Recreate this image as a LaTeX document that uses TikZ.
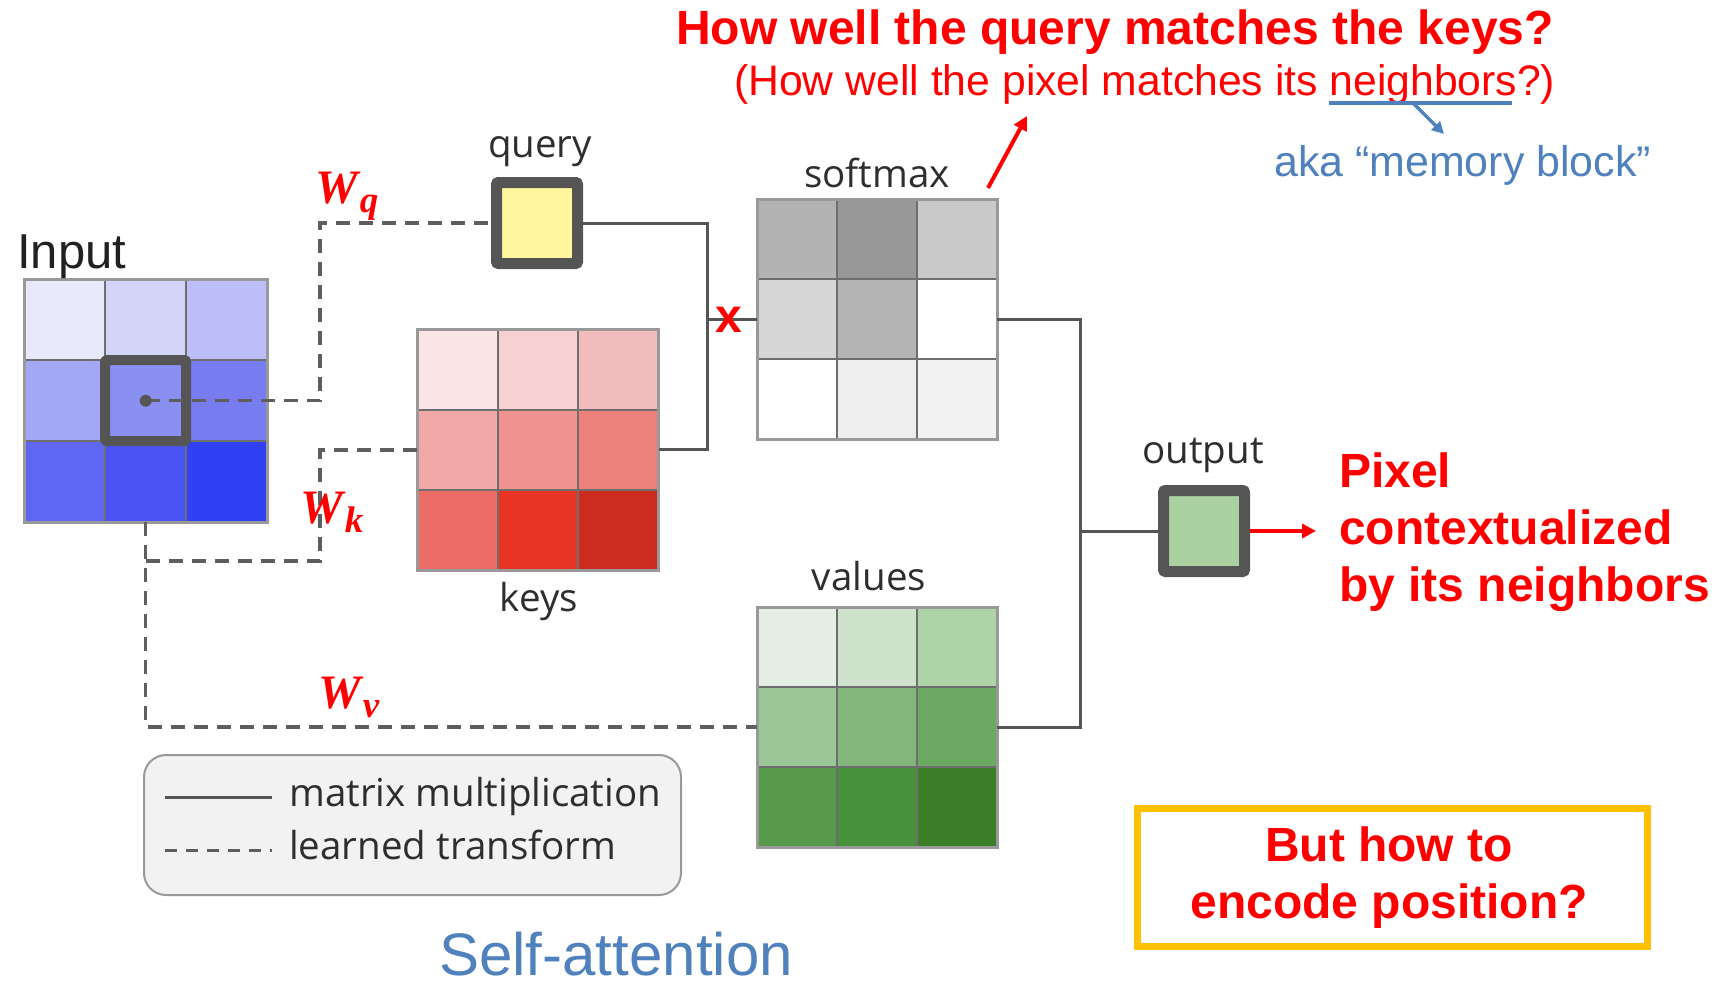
\documentclass[tikz,border=0pt]{standalone}
\usepackage{fontspec}
\setmainfont{Liberation Sans}
\newfontfamily\labelfont{Open Sans}
\newfontfamily\weightfont{Liberation Serif}
\usetikzlibrary{arrows.meta}

\definecolor{wire}{HTML}{555555}
\definecolor{dashwire}{HTML}{5E5E5E}
\definecolor{cellline}{HTML}{6E6E6E}
\definecolor{gridframe}{HTML}{999999}
\definecolor{labelgray}{HTML}{2E2E2E}
\definecolor{noteblue}{HTML}{4F81BD}
\definecolor{notered}{HTML}{FF0000}
\definecolor{querybg}{HTML}{FFF59D}
\definecolor{outputbg}{HTML}{ABD1A0}
\definecolor{legendbg}{HTML}{F2F2F2}
\definecolor{gold}{HTML}{FFC000}

% 3x3 grid of coloured cells: name, left, top, cell size, nine hex colours
\newcommand\cellgrid[5]{%
  \node[inner sep=0pt, minimum width={3*#4}, minimum height={3*#4}, anchor=north west] (#1) at (#2,#3) {};
  \foreach \c [count=\i from 0] in {#5} {%
    \pgfmathtruncatemacro\gc{mod(\i,3)}%
    \pgfmathtruncatemacro\gr{div(\i,3)}%
    \definecolor{cellfill}{HTML}{\c}%
    \fill[cellfill] ({#2+\gc*#4},{#3+\gr*#4}) rectangle ++(#4,#4);
  }
  \foreach \k in {1,2} {%
    \draw[cellrule] ({#2+\k*#4},#3) -- ++(0,{3*#4});
    \draw[cellrule] (#2,{#3+\k*#4}) -- ++({3*#4},0);
  }
  \draw[gridrim] (#1.north west) rectangle (#1.south east);
}

% weight matrix symbol: bold italic W with a large subscript
\newcommand\weight[1]{{\weightfont\bfseries\itshape W\kern2pt\raisebox{-9pt}{\fontsize{37}{37}\selectfont #1}}}

\tikzset{
  cellrule/.style={draw=cellline, line width=2pt},
  gridrim/.style={draw=gridframe, line width=3pt},
  matmul/.style={draw=wire, line width=3pt},
  learned/.style={draw=dashwire, line width=3.5pt, dash pattern=on 14pt off 9pt},
  heavybox/.style={draw=wire, line width=11pt, minimum size=81pt, inner sep=0pt, rounded corners=2pt},
  gtext/.style={font=\labelfont\fontsize{38.5}{46}\selectfont, text=labelgray, inner sep=0pt},
  redbold/.style={font=\bfseries\fontsize{48}{57}\selectfont, text=notered, inner sep=0pt},
  wlabel/.style={font=\fontsize{48}{52}\selectfont, text=notered, inner sep=0pt, anchor=base west},
  redarrow/.style={draw=notered, line width=4pt, -{Triangle[length=14pt, width=14pt]}},
  bluearrow/.style={draw=noteblue, line width=3.5pt, -{Triangle[length=12pt, width=12pt]}},
}

\begin{document}
\begin{tikzpicture}[x=1pt, y=-1pt]
\useasboundingbox (0,0) rectangle (1727,988);

% ---- grids ----
\cellgrid{input}{24}{279}{81}{E8E9FB,D2D4F8,BBBEF9,A3A7F6,8A8FF2,777CF1,5F66F1,4A53F4,2F41F2}
\cellgrid{keys}{417}{329}{80.5}{FAE6E6,F7D1D1,F3BCBC,F3A8A8,EF9290,EE807C,EE6C68,E83424,CC2C1E}
\cellgrid{softmax}{757}{199}{80}{B3B3B3,989898,C9C9C9,D6D6D6,B4B4B4,FFFFFF,FFFFFF,EEEEEE,F2F2F2}
\cellgrid{values}{757}{607}{80}{E4EEE4,CEE2CC,AED3A6,9BC695,83B67B,6BA862,56994A,48913C,3A7E27}

% ---- single-pixel boxes ----
\node[heavybox, line width=10pt] (focus) at (input.center) {};
\node[heavybox, fill=querybg] (query) at (537,223) {};
\node[heavybox, fill=outputbg] (output) at (1204,531) {};

% ---- junction coordinates ----
\coordinate (qkjoin) at (707,0);
\coordinate (svjoin) at (1080,0);
\coordinate (wjoin) at (320,0);
\coordinate (kbranch) at (0,561);

% ---- learned transforms (dashed) ----
\draw[learned] (input.center) -| (wjoin |- query.west) -- (query.west);
\draw[learned] (input.south) |- (values.west);
\draw[learned] (input.south |- kbranch) -| (wjoin |- keys.west) -- (keys.west);
\node[circle, fill=wire, inner sep=0pt, minimum size=12pt] (pixel) at (input.center) {};

% ---- matrix multiplications (solid) ----
\draw[matmul] (query.east) -| (qkjoin |- keys.east) -- (keys.east);
\draw[matmul] (qkjoin |- softmax.west) -- (softmax.west);
\draw[matmul] (softmax.east) -| (svjoin |- values.east) -- (values.east);
\draw[matmul] (svjoin |- output.west) -- (output.west);
\node[font=\bfseries\fontsize{48}{48}\selectfont, text=notered, inner sep=0pt] (times) at (729,320) {x};

% ---- labels ----
\node[font=\fontsize{49}{54}\selectfont, text=black!87, inner sep=0pt, anchor=base west] (inputlabel) at (17,268) {Input};
\node[gtext, anchor=base] (querylabel) at (540,157) {query};
\node[gtext, anchor=base] (softmaxlabel) at (877,187) {softmax};
\node[gtext, anchor=base] (keyslabel) at (539,611) {keys};
\node[gtext, anchor=base] (valueslabel) at (869,590) {values};
\node[gtext, anchor=base] (outputlabel) at (1203,463) {output};

\node[wlabel] (wq) at (315,203) {\weight{q}};
\node[wlabel] (wk) at (300,523) {\weight{k}};
\node[wlabel] (wv) at (318,708) {\weight{v}};

% ---- legend ----
\node[draw=gridframe, line width=2pt, fill=legendbg, rounded corners=22pt, minimum width=537pt, minimum height=140pt, anchor=north west, inner sep=0pt] (legend) at (143,754) {};
\coordinate (solidA) at (165,797);
\coordinate (solidB) at (272,797);
\coordinate (dashA) at (165,850);
\coordinate (dashB) at (272,850);
\draw[matmul] (solidA) -- (solidB);
\draw[learned, line width=3pt, dash pattern=on 12pt off 9pt] (dashA) -- (dashB);
\node[gtext, anchor=base west] (legendmm) at (289,806) {matrix multiplication};
\node[gtext, anchor=base west] (legendlt) at (289,859) {learned transform};

% ---- annotations ----
\node[redbold, anchor=base west] (question) at (676,44) {How well the query matches the keys?};
\node[font=\fontsize{42.7}{48}\selectfont, text=notered, inner sep=0pt, anchor=base west] (pixelq) at (734,95) {(How well the pixel matches its neighbors?)};
\coordinate (ulineA) at (1329,103);
\coordinate (ulineB) at (1512,103);
\draw[draw=noteblue, line width=4pt] (ulineA) -- (ulineB);
\coordinate (ulineFoot) at (1414,104);
\coordinate (akaTip) at (1444,134);
\draw[bluearrow] (ulineFoot) -- (akaTip);
\node[font=\fontsize{42.9}{48}\selectfont, text=noteblue, inner sep=0pt, anchor=base west] (aka) at (1274,176) {aka “memory block”};

\coordinate (softTail) at (988,188);
\coordinate (softTip) at (1027,116);
\draw[redarrow] (softTail) -- (softTip);

\node[redbold, align=left, anchor=north west] (result) at (1339,453) {Pixel\\contextualized\\by its neighbors};
\coordinate (resultTip) at (1316,531);
\draw[redarrow] (output.east) -- (resultTip);

\node[draw=gold, line width=7pt, minimum width=510pt, minimum height=138pt, anchor=north west, inner sep=0pt] (posbox) at (1134,805) {};
\node[redbold, align=center, anchor=north] (postext) at (1389,827) {But how to\\encode position?};

\node[font=\fontsize{60}{66}\selectfont, text=noteblue, inner sep=0pt, anchor=base west] (title) at (439,975) {Self-attention};
\end{tikzpicture}
\end{document}
